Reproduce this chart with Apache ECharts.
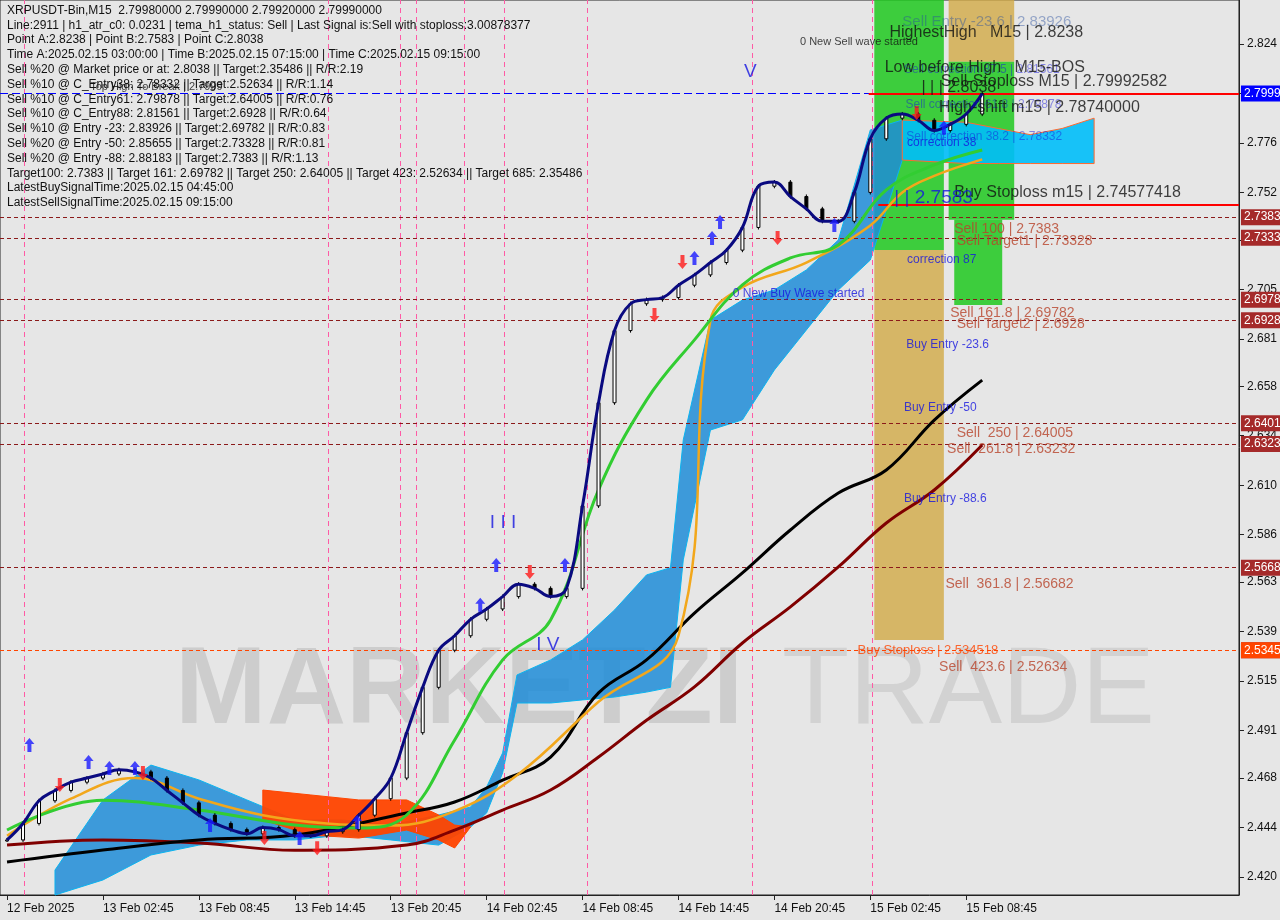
<!DOCTYPE html>
<html>
<head>
<meta charset="utf-8">
<script src="https://cdn.jsdelivr.net/npm/echarts@6/dist/echarts.min.js"></script>
<style>
html, body { margin: 0; padding: 0; background: #e6e6e6; }
#chart { width: 1280px; height: 920px; }
</style>
</head>
<body>
<div id="chart"></div>
<script>
// hourly closes, bar 0 = 12 Feb 20:45
var closes = [2.438, 2.446, 2.457, 2.462, 2.466, 2.468, 2.470, 2.472, 2.471, 2.468,
    2.462, 2.456, 2.450, 2.446, 2.443, 2.441, 2.444, 2.443, 2.440, 2.440,
    2.442, 2.443, 2.450, 2.458, 2.468, 2.490, 2.512, 2.530, 2.537, 2.545,
    2.550, 2.556, 2.562, 2.560, 2.556, 2.560, 2.600, 2.650, 2.685, 2.698,
    2.700, 2.701, 2.707, 2.712, 2.718, 2.724, 2.735, 2.755, 2.757, 2.750,
    2.744, 2.738, 2.738, 2.752, 2.778, 2.788, 2.790, 2.787, 2.782, 2.785,
    2.790, 2.7999];

var greenIdx = [0, 6, 12, 18, 22, 25, 28, 31, 34, 37, 40, 43, 46, 49, 52, 55, 58, 61];
var greenVals = [2.4428, 2.4573, 2.4525, 2.4452, 2.4438, 2.4501, 2.4865, 2.5253, 2.5447, 2.6078,
    2.6513, 2.6805, 2.7072, 2.7202, 2.7265, 2.7532, 2.7653, 2.7726];

var orangeIdx = [0, 4, 8, 12, 16, 20, 24, 28, 32, 37, 42, 44, 46, 50, 54, 56, 58, 61];
var orangeVals = [2.440, 2.458, 2.468, 2.458, 2.450, 2.446, 2.445, 2.452, 2.470, 2.505,
    2.537, 2.690, 2.706, 2.718, 2.736, 2.752, 2.760, 2.768];

var blackIdx = [0, 6, 12, 18, 25, 28, 31, 34, 37, 40, 43, 46, 49, 52, 55, 58, 61];
var blackVals = [2.4273, 2.4331, 2.4380, 2.4404, 2.4511, 2.4564, 2.4670, 2.4782, 2.5093, 2.5253,
    2.5480, 2.5675, 2.5883, 2.6062, 2.6174, 2.6416, 2.6610];

var redIdx = [0, 6, 12, 18, 25, 28, 31, 34, 37, 40, 43, 46, 49, 52, 55, 58, 61];
var redVals = [2.4355, 2.4380, 2.4365, 2.4330, 2.4355, 2.4428, 2.4525, 2.4622, 2.4782, 2.4960,
    2.5122, 2.5335, 2.5510, 2.5704, 2.5917, 2.6077, 2.6295];

// ichimoku cloud
var blueIdx = [3, 6, 9, 12, 15, 18, 21, 24, 27, 29, 30, 31, 31.9, 34, 36, 38, 40, 41.5, 42.3, 44, 46, 48, 50, 52, 54, 56];
var blueLow = [2.4113, 2.4186, 2.4307, 2.4355, 2.4380, 2.4380, 2.4404, 2.4380, 2.4355, 2.4443,
    2.4511, 2.4705, 2.5044, 2.5044, 2.5059, 2.5073, 2.5097, 2.5120, 2.5738, 2.6368,
    2.6417, 2.6659, 2.6853, 2.7047, 2.7192, 2.7677];
var blueHigh = [2.4234, 2.4574, 2.4743, 2.4671, 2.4574, 2.4477, 2.4477, 2.4452, 2.4501, 2.4540,
    2.4637, 2.4802, 2.5180, 2.5253, 2.5350, 2.5495, 2.5665, 2.5700, 2.6320, 2.6901,
    2.6998, 2.7047, 2.7144, 2.7289, 2.7823, 2.7871];
var fwdIdx = [56, 60, 62, 64, 66, 68];
var fwdLow = [2.7677, 2.7660, 2.7660, 2.7660, 2.7660, 2.7660];
var fwdHigh = [2.7871, 2.7860, 2.7830, 2.7800, 2.7830, 2.7880];
var redCloudIdx = [16, 19, 22, 25, 27, 28, 29];
var redCloudLow = [2.4477, 2.4404, 2.4389, 2.4428, 2.4380, 2.4341, 2.4443];
var redCloudHigh = [2.4622, 2.4598, 2.4574, 2.4574, 2.4501, 2.4452, 2.4443];

var dateLabels = ['12 Feb 2025', '13 Feb 02:45', '13 Feb 08:45', '13 Feb 14:45', '13 Feb 20:45',
    '14 Feb 02:45', '14 Feb 08:45', '14 Feb 14:45', '14 Feb 20:45', '15 Feb 02:45', '15 Feb 08:45'];
var priceTicks = [2.824, 2.800, 2.776, 2.752, 2.729, 2.705, 2.681, 2.658, 2.634, 2.610,
    2.586, 2.563, 2.539, 2.515, 2.491, 2.468, 2.444, 2.420];

var sellLevels = [2.7383, 2.73328, 2.69782, 2.6928, 2.64005, 2.63232, 2.56682, 2.52634];
var buyStop = 2.534518;
var lastPrice = 2.7999;
var pinkLines = [1.1, 20.1, 24.6, 25.6, 28.6, 31.1, 36.3, 46.6, 54.1];

var buyIdx = [1.4, 5.1, 6.4, 8, 12.7, 18.3, 21.9, 29.6, 30.6, 34.9, 43, 44.1, 44.6, 51.75, 58.6];
var buyVals = [2.484, 2.4758, 2.4729, 2.4729, 2.4452, 2.4389, 2.4467, 2.552, 2.5713, 2.5713,
    2.7202, 2.7299, 2.7377, 2.7362, 2.7833];
var sellIdx = [3.3, 8.5, 16.1, 19.4, 32.7, 40.5, 42.25, 48.2, 56.9];
var sellVals = [2.4646, 2.4705, 2.4389, 2.434, 2.5679, 2.6926, 2.7183, 2.7299, 2.7905];

// [bar, price, text, kind]
var notes = [
    [56.0, 2.8347, 'Sell Entry -23.6 | 2.83926', 'grey'],
    [55.2, 2.8293, 'HighestHigh   M15 | 2.8238', 'big'],
    [49.6, 2.8250, '0 New Sell wave started', 'small'],
    [56.1, 2.8114, 'Sell correction 87.5 | 2.81561', 'bluesmall'],
    [54.9, 2.8124, 'Low before High   M15-BOS', 'big'],
    [58.4, 2.8056, 'Sell-Stoploss M15 | 2.79992582', 'big'],
    [57.2, 2.8027, '| | | 2.8038', 'big'],
    [5.2, 2.8031, 'Top High To Break | 2.7999', 'small'],
    [56.2, 2.7944, 'Sell correction 61.8 | 2.79878', 'bluesmall'],
    [58.3, 2.7930, 'High-shift m15 | 2.78740000', 'big'],
    [56.25, 2.7789, 'Sell correction 38.2 | 2.78332', 'bluesmall'],
    [56.3, 2.7760, 'correction 38', 'blue'],
    [59.25, 2.7517, 'Buy Stoploss m15 | 2.74577418', 'big'],
    [55.5, 2.7493, '| | 2.7583', 'bluebig'],
    [59.25, 2.7343, 'Sell 100 | 2.7383', 'brown'],
    [59.4, 2.7285, 'Sell Target1 | 2.73328', 'brown'],
    [56.3, 2.7192, 'correction 87', 'blue'],
    [45.4, 2.7027, '0 New Buy Wave started', 'blue'],
    [59.0, 2.6935, 'Sell 161.8 | 2.69782', 'brown'],
    [59.4, 2.6882, 'Sell Target2 | 2.6928', 'brown'],
    [56.25, 2.6780, 'Buy Entry -23.6', 'blue'],
    [56.1, 2.6475, 'Buy Entry -50', 'blue'],
    [59.4, 2.6353, 'Sell  250 | 2.64005', 'brown'],
    [58.8, 2.6276, 'Sell  261.8 | 2.63232', 'brown'],
    [56.1, 2.6033, 'Buy Entry -88.6', 'blue'],
    [58.7, 2.5620, 'Sell  361.8 | 2.56682', 'brown'],
    [53.2, 2.5301, 'Buy Stoploss | 2.534518', 'orange'],
    [58.3, 2.5218, 'Sell  423.6 | 2.52634', 'brown'],
    [30.2, 2.5917, 'I I I', 'bluebig'],
    [33.1, 2.5325, 'I V', 'bluebig'],
    [46.1, 2.8104, 'V', 'bluebig']
];

var headerLines = [
    'XRPUSDT-Bin,M15  2.79980000 2.79990000 2.79920000 2.79990000',
    'Line:2911 | h1_atr_c0: 0.0231 | tema_h1_status: Sell | Last Signal is:Sell with stoploss:3.00878377',
    'Point A:2.8238 | Point B:2.7583 | Point C:2.8038',
    'Time A:2025.02.15 03:00:00 | Time B:2025.02.15 07:15:00 | Time C:2025.02.15 09:15:00',
    'Sell %20 @ Market price or at: 2.8038 || Target:2.35486 || R/R:2.19',
    'Sell %10 @ C_Entry38: 2.78332 || Target:2.52634 || R/R:1.14',
    'Sell %10 @ C_Entry61: 2.79878 || Target:2.64005 || R/R:0.76',
    'Sell %10 @ C_Entry88: 2.81561 || Target:2.6928 || R/R:0.64',
    'Sell %10 @ Entry -23: 2.83926 || Target:2.69782 || R/R:0.83',
    'Sell %20 @ Entry -50: 2.85655 || Target:2.73328 || R/R:0.81',
    'Sell %20 @ Entry -88: 2.88183 || Target:2.7383 || R/R:1.13',
    'Target100: 2.7383 || Target 161: 2.69782 || Target 250: 2.64005 || Target 423: 2.52634 || Target 685: 2.35486',
    'LatestBuySignalTime:2025.02.15 04:45:00',
    'LatestSellSignalTime:2025.02.15 09:15:00'
];

var noteStyle = {
    grey: { color: 'rgba(40,80,160,0.55)', fontSize: 15 },
    big: { color: '#111', fontSize: 16 },
    small: { color: '#111', fontSize: 11 },
    blue: { color: '#1515e0', fontSize: 12 },
    bluesmall: { color: 'rgba(20,20,220,0.6)', fontSize: 12 },
    bluebig: { color: '#1515e0', fontSize: 19 },
    brown: { color: '#b8432a', fontSize: 14 },
    orange: { color: '#ff4500', fontSize: 13 }
};

function pairs(idx, vals) {
    return idx.map(function (v, k) { return [v, vals[k]]; });
}

function bandSeries(idx, low, high, color, border) {
    return {
        type: 'custom',
        silent: true,
        z: 2,
        data: [[idx[0], low[0]]],
        renderItem: function (params, api) {
            var pts = [];
            for (var k = 0; k < idx.length; k++) pts.push(api.coord([idx[k], high[k]]));
            for (var k2 = idx.length - 1; k2 >= 0; k2--) pts.push(api.coord([idx[k2], low[k2]]));
            return {
                type: 'polygon',
                shape: { points: pts },
                style: { fill: color, stroke: border, lineWidth: 1 }
            };
        }
    };
}

function lineSeries(idx, vals, color, width) {
    return {
        type: 'line',
        data: pairs(idx, vals),
        smooth: 0.4,
        showSymbol: false,
        z: 5,
        lineStyle: { color: color, width: width }
    };
}

var chart = echarts.init(document.getElementById('chart'));

var candleData = closes.map(function (c, i) {
    var o = i === 0 ? c : closes[i - 1];
    return [i, o, c, Math.min(o, c) - 0.001, Math.max(o, c) + 0.001];
});

var dashBrown = { color: '#8b1a1a', type: [4, 3], width: 1 };

chart.setOption({
    backgroundColor: '#e6e6e6',
    animation: false,
    grid: { left: 0, right: 40, top: 0, bottom: 25, show: true, borderColor: '#222', borderWidth: 1 },
    xAxis: {
        type: 'value',
        min: -0.44,
        max: 77.06,
        axisLine: { show: true, onZero: false, lineStyle: { color: '#222' } },
        axisTick: { customValues: [0, 6, 12, 18, 24, 30, 36, 42, 48, 54, 60], lineStyle: { color: '#222' } },
        splitLine: { show: false },
        axisLabel: {
            customValues: [0, 6, 12, 18, 24, 30, 36, 42, 48, 54, 60],
            formatter: function (v) { return dateLabels[Math.round(v / 6)]; },
            color: '#111', fontSize: 12, align: 'left', fontFamily: 'Liberation Sans'
        }
    },
    yAxis: {
        type: 'value',
        position: 'right',
        min: 2.4113,
        max: 2.8453,
        axisLine: { show: true, onZero: false, lineStyle: { color: '#222' } },
        axisTick: { show: true, customValues: priceTicks, lineStyle: { color: '#222' } },
        splitLine: { show: false },
        axisLabel: {
            customValues: priceTicks,
            formatter: function (v) { return v.toFixed(3); },
            color: '#111', fontSize: 12, fontFamily: 'Liberation Sans'
        }
    },
    graphic: [
        {
            type: 'text', left: 175, top: 638, z: 0, silent: true,
            style: { text: 'MARKETZI', fontSize: 110, fontWeight: 'bold', fontFamily: 'Liberation Sans', fill: 'rgba(140,140,140,0.28)' }
        },
        {
            type: 'text', left: 782, top: 638, z: 0, silent: true,
            style: { text: 'TRADE', fontSize: 110, fontFamily: 'Liberation Sans', fill: 'rgba(140,140,140,0.22)' }
        },
        {
            type: 'text', left: 7, top: 3, z: 100,
            style: { text: headerLines.join('\n'), fontSize: 12, lineHeight: 14.8, fontFamily: 'Liberation Sans', fill: '#111' }
        }
    ],
    series: [
        {
            type: 'line',
            data: [],
            silent: true,
            markArea: {
                silent: true,
                data: [
                    [{ xAxis: 54.25, yAxis: 2.8453, itemStyle: { color: 'rgba(30,200,30,0.85)' } }, { xAxis: 58.6, yAxis: 2.7241 }],
                    [{ xAxis: 54.25, yAxis: 2.7241, itemStyle: { color: 'rgba(210,170,70,0.8)' } }, { xAxis: 58.6, yAxis: 2.5350 }],
                    [{ xAxis: 58.9, yAxis: 2.8453, itemStyle: { color: 'rgba(210,170,70,0.8)' } }, { xAxis: 63, yAxis: 2.8153 }],
                    [{ xAxis: 58.9, yAxis: 2.8153, itemStyle: { color: 'rgba(30,200,30,0.85)' } }, { xAxis: 63, yAxis: 2.7387 }],
                    [{ xAxis: 59.25, yAxis: 2.7387, itemStyle: { color: 'rgba(30,200,30,0.85)' } }, { xAxis: 62.25, yAxis: 2.6974 }]
                ]
            },
            markLine: {
                symbol: 'none',
                silent: true,
                data: pinkLines.map(function (v) {
                    return { xAxis: v, lineStyle: { color: '#ff5aa5', type: [5, 4], width: 1 }, label: { show: false } };
                })
            }
        },
        bandSeries(blueIdx, blueLow, blueHigh, 'rgba(30,140,215,0.85)', '#0bb4f0'),
        bandSeries(fwdIdx, fwdLow, fwdHigh, 'rgba(0,190,250,0.9)', '#ff6a30'),
        bandSeries(redCloudIdx, redCloudLow, redCloudHigh, 'rgba(255,69,0,0.95)', '#ff4500'),
        {
            type: 'custom',
            z: 6,
            data: candleData,
            renderItem: function (params, api) {
                var x = api.value(0);
                var o = api.value(1), c = api.value(2);
                var pLow = api.coord([x, api.value(3)]);
                var pHigh = api.coord([x, api.value(4)]);
                var pO = api.coord([x, o]);
                var pC = api.coord([x, c]);
                var top = Math.min(pO[1], pC[1]);
                var h = Math.max(Math.abs(pO[1] - pC[1]), 1);
                return {
                    type: 'group',
                    children: [
                        { type: 'line', shape: { x1: pLow[0], y1: pLow[1], x2: pHigh[0], y2: pHigh[1] }, style: { stroke: '#000', lineWidth: 1 } },
                        { type: 'rect', shape: { x: pO[0] - 1.5, y: top, width: 3, height: h }, style: { fill: c >= o ? '#fff' : '#000', stroke: '#000', lineWidth: 1 } }
                    ]
                };
            }
        },
        lineSeries(redIdx, redVals, '#800000', 3),
        lineSeries(blackIdx, blackVals, '#000', 3),
        lineSeries(orangeIdx, orangeVals, '#f2a71b', 2.5),
        lineSeries(greenIdx, greenVals, '#32cd32', 3),
        {
            type: 'line',
            data: pairs(closes.map(function (c, i) { return i; }), closes),
            smooth: 0.4,
            showSymbol: false,
            z: 7,
            lineStyle: { color: '#0a0a80', width: 3 },
            markLine: {
                symbol: 'none',
                silent: true,
                label: {
                    position: 'end', distance: 2, color: '#fff', fontSize: 12, padding: [2, 3],
                    fontFamily: 'Liberation Sans', backgroundColor: '#a52a2a'
                },
                data: sellLevels.map(function (v) {
                    return { yAxis: v, lineStyle: dashBrown, label: { formatter: v.toFixed(4) } };
                }).concat([
                    { yAxis: buyStop, lineStyle: { color: '#ff4500', type: [4, 3], width: 1 }, label: { formatter: buyStop.toFixed(4), backgroundColor: '#ff4500' } },
                    { yAxis: lastPrice, lineStyle: { color: '#0000ff', type: [8, 4], width: 1 }, label: { formatter: lastPrice.toFixed(4), backgroundColor: '#0000ff' } },
                    [{ coord: [53.9, 2.79992582], lineStyle: { color: '#ff0000', type: 'solid', width: 2 }, label: { show: false } }, { coord: [77.06, 2.79992582] }],
                    [{ coord: [54.5, 2.74577418], lineStyle: { color: '#ff0000', type: 'solid', width: 2 }, label: { show: false } }, { coord: [77.06, 2.74577418] }]
                ])
            }
        },
        {
            type: 'scatter',
            z: 8,
            symbol: 'path://M5,0 L10,6 L7,6 L7,14 L3,14 L3,6 L0,6 Z',
            symbolSize: [10, 14],
            itemStyle: { color: '#1a1aff' },
            data: pairs(buyIdx, buyVals)
        },
        {
            type: 'scatter',
            z: 8,
            symbol: 'path://M3,0 L7,0 L7,8 L10,8 L5,14 L0,8 L3,8 Z',
            symbolSize: [10, 14],
            itemStyle: { color: '#ff1a1a' },
            data: pairs(sellIdx, sellVals)
        },
        {
            type: 'scatter',
            z: 20,
            symbolSize: 0,
            silent: true,
            data: notes.map(function (n) {
                var st = noteStyle[n[3]];
                return {
                    value: [n[0], n[1]],
                    label: {
                        show: true, position: 'right', distance: 0,
                        formatter: n[2], color: st.color, fontSize: st.fontSize,
                        fontFamily: 'Liberation Sans'
                    }
                };
            })
        }
    ]
});
</script>
</body>
</html>
